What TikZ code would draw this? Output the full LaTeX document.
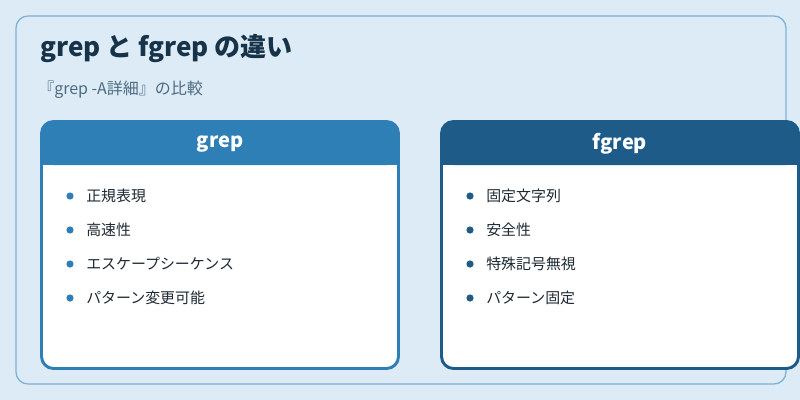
\documentclass[tikz,border=0pt]{standalone}
\usepackage{fontspec}
\setmainfont{Noto Sans CJK JP}
\definecolor{bg}{HTML}{DCEBF6}
\definecolor{frame}{HTML}{7FB2D4}
\definecolor{titlec}{HTML}{17334A}
\definecolor{subc}{HTML}{4D6B80}
\definecolor{c1}{HTML}{2E7FB6}
\definecolor{c2}{HTML}{1E5B88}
\definecolor{txt}{HTML}{1E2A33}
\begin{document}
\begin{tikzpicture}[x=0.75pt,y=-0.75pt,
  item/.style={anchor=west,font=\fontsize{11.2}{13}\selectfont,text=txt,inner sep=0pt},
  head/.style={font=\bfseries\fontsize{15}{17}\selectfont,text=white}]
\useasboundingbox (0,0) rectangle (800,400);
\fill[bg] (0,0) rectangle (800,400);
\draw[frame,line width=1pt,rounded corners=9pt] (16,16) rectangle (786,384);
\node[anchor=west,font=\bfseries\fontsize{19.5}{22}\selectfont,text=titlec,inner sep=0pt] (title) at (40,48) {grep と fgrep の違い};
\node[anchor=west,font=\fontsize{12}{14}\selectfont,text=subc,inner sep=0pt] (sub) at (38,90) {『grep -A詳細』の比較};
\foreach \x/\c/\h/\n in {40/c1/grep/L,440/c2/fgrep/R}{
  \fill[white,rounded corners=9pt] (\x+1.5,121.5) rectangle (\x+358.5,368.5);
  \fill[\c,rounded corners=9pt] (\x+1.5,121.5) rectangle (\x+358.5,165);
  \fill[\c] (\x+1.5,150) rectangle (\x+358.5,165);
  \draw[\c,line width=2.2pt,rounded corners=9pt] (\x+1.5,121.5) rectangle (\x+358.5,368.5);
  \node[head] (h\n) at (\x+180,144) {\h};
}
\foreach \t [count=\i] in {正規表現,高速性,エスケープシーケンス,パターン変更可能}{
  \fill[c1] (70,162+34*\i) circle (3.6);
  \node[item] (l\i) at (86,162+34*\i) {\t};
}
\foreach \t [count=\i] in {固定文字列,安全性,特殊記号無視,パターン固定}{
  \fill[c2] (470,162+34*\i) circle (3.6);
  \node[item] (r\i) at (486,162+34*\i) {\t};
}
\end{tikzpicture}
\end{document}
